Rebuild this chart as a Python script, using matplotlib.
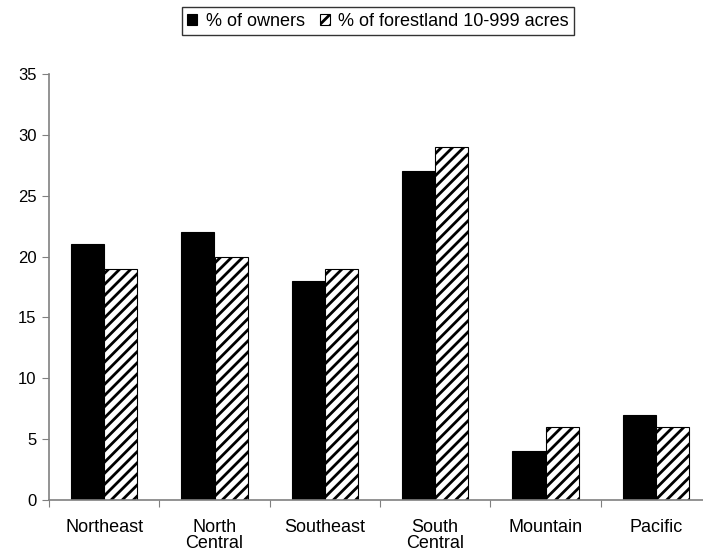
import numpy as np
import matplotlib
matplotlib.use("Agg")
import matplotlib.pyplot as plt

regions = ["Northeast", "North\nCentral", "Southeast", "South\nCentral", "Mountain", "Pacific"]
pct_owners = [21, 22, 18, 27, 4, 7]
pct_forestland = [19, 20, 19, 29, 6, 6]

plt.rcParams['font.family'] = ['Liberation Sans', 'DejaVu Sans']
plt.rcParams['hatch.linewidth'] = 2.0

fig = plt.figure(figsize=(7.03, 5.58), dpi=100)
ax = fig.add_axes([49/703, 58/558, 662/703, 426/558])

x = np.arange(len(regions))
w = 0.3
ax.bar(x - w/2, pct_owners, w, color='black', edgecolor='black', linewidth=0.8,
       label='% of owners')
ax.bar(x + w/2, pct_forestland, w, color='white', edgecolor='black', linewidth=0.8,
       hatch='///', label='% of forestland 10-999 acres')

ax.set_xlim(-0.5, len(regions) - 0.5)
ax.set_ylim(0, 35)
ax.set_yticks(range(0, 36, 5))
ax.set_xticks(np.arange(-0.5, len(regions), 1))
ax.set_xticklabels([])
ax.set_xticks(x, minor=True)
ax.set_xticklabels(regions, minor=True, va='top', linespacing=0.92)
ax.tick_params(axis='x', which='minor', length=0, pad=14, labelsize=13)
ax.tick_params(axis='x', which='major', length=5, direction='out', color='#808080')
ax.tick_params(axis='y', length=5, direction='out', color='#808080', labelsize=12, pad=4)

for s in ['top', 'right']:
    ax.spines[s].set_visible(False)
for s in ['left', 'bottom']:
    ax.spines[s].set_color('#808080')
    ax.spines[s].set_linewidth(1.2)

leg = fig.legend(loc='center', bbox_to_anchor=(378/703, 1 - 21/558), ncol=2,
                 fontsize=13, frameon=True, fancybox=False, edgecolor='black',
                 handlelength=0.55, handleheight=0.55, handletextpad=0.45,
                 columnspacing=0.85, borderpad=0.3)
leg.get_frame().set_linewidth(1.0)

fig.savefig("out.png", dpi=100)
